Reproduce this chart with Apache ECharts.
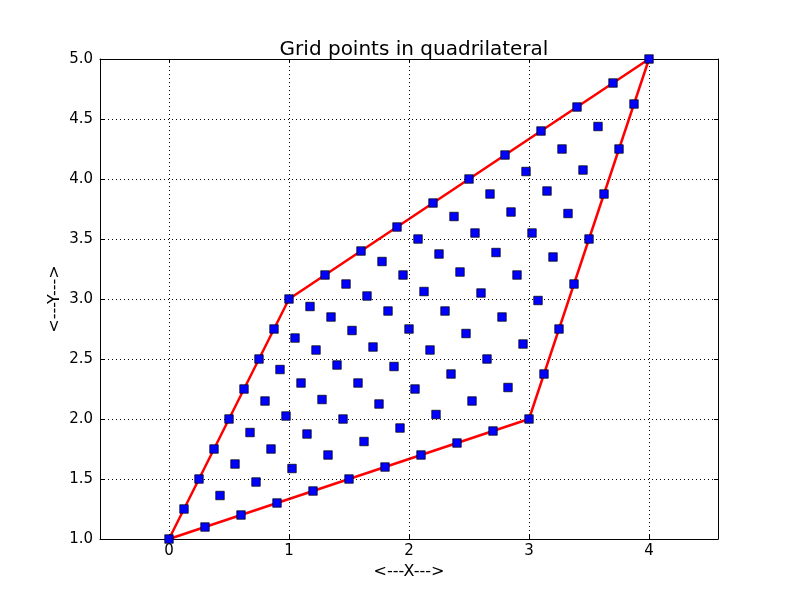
<!DOCTYPE html>
<html>
<head>
<meta charset="utf-8">
<script src="https://cdn.jsdelivr.net/npm/echarts@6/dist/echarts.min.js"></script>
<style>html,body{margin:0;padding:0;background:#fff}#c{width:800px;height:600px}</style>
</head>
<body>
<div id="c"></div>
<script>
// Grid point coordinates, one row per level (bottom edge to top edge)
var gridX = [
  [0, 0.3, 0.6, 0.9, 1.2, 1.5, 1.8, 2.1, 2.4, 2.7, 3.0],
  [0.125, 0.425, 0.725, 1.025, 1.325, 1.625, 1.925, 2.225, 2.525, 2.825, 3.125],
  [0.25, 0.55, 0.85, 1.15, 1.45, 1.75, 2.05, 2.35, 2.65, 2.95, 3.25],
  [0.375, 0.675, 0.975, 1.275, 1.575, 1.875, 2.175, 2.475, 2.775, 3.075, 3.375],
  [0.5, 0.8, 1.1, 1.4, 1.7, 2.0, 2.3, 2.6, 2.9, 3.2, 3.5],
  [0.625, 0.925, 1.225, 1.525, 1.825, 2.125, 2.425, 2.725, 3.025, 3.325, 3.625],
  [0.75, 1.05, 1.35, 1.65, 1.95, 2.25, 2.55, 2.85, 3.15, 3.45, 3.75],
  [0.875, 1.175, 1.475, 1.775, 2.075, 2.375, 2.675, 2.975, 3.275, 3.575, 3.875],
  [1.0, 1.3, 1.6, 1.9, 2.2, 2.5, 2.8, 3.1, 3.4, 3.7, 4.0]
];
var gridY = [
  [1.0, 1.1, 1.2, 1.3, 1.4, 1.5, 1.6, 1.7, 1.8, 1.9, 2.0],
  [1.25, 1.3625, 1.475, 1.5875, 1.7, 1.8125, 1.925, 2.0375, 2.15, 2.2625, 2.375],
  [1.5, 1.625, 1.75, 1.875, 2.0, 2.125, 2.25, 2.375, 2.5, 2.625, 2.75],
  [1.75, 1.8875, 2.025, 2.1625, 2.3, 2.4375, 2.575, 2.7125, 2.85, 2.9875, 3.125],
  [2.0, 2.15, 2.3, 2.45, 2.6, 2.75, 2.9, 3.05, 3.2, 3.35, 3.5],
  [2.25, 2.4125, 2.575, 2.7375, 2.9, 3.0625, 3.225, 3.3875, 3.55, 3.7125, 3.875],
  [2.5, 2.675, 2.85, 3.025, 3.2, 3.375, 3.55, 3.725, 3.9, 4.075, 4.25],
  [2.75, 2.9375, 3.125, 3.3125, 3.5, 3.6875, 3.875, 4.0625, 4.25, 4.4375, 4.625],
  [3.0, 3.2, 3.4, 3.6, 3.8, 4.0, 4.2, 4.4, 4.6, 4.8, 5.0]
];
var cornerX = [0, 3, 4, 1, 0];
var cornerY = [1, 2, 5, 3, 1];
var xTicks = [0, 1, 2, 3, 4];
var xMin = -0.575, xMax = 4.575;
var yMin = 1.0, yMax = 5.0, yStep = 0.5;

var points = [];
for (var r = 0; r < gridX.length; r++) {
  for (var c = 0; c < gridX[r].length; c++) points.push([gridX[r][c], gridY[r][c]]);
}
var outline = cornerX.map(function (x, i) { return [x, cornerY[i]]; });

var font = 'DejaVu Sans';
var dotted = { color: '#000', width: 1, type: [1, 3] };
function xAx(pos, showLabel) {
  return {
    type: 'value', position: pos, min: xMin, max: xMax,
    axisLine: { show: true, onZero: false, lineStyle: { color: '#000', width: 1 } },
    axisTick: { show: true, inside: true, length: 4, customValues: xTicks, lineStyle: { color: '#000' } },
    axisLabel: { show: showLabel, customValues: xTicks, color: '#000', fontFamily: font, fontSize: 15, margin: 5 },
    splitLine: { show: false },
    name: showLabel ? '<---X--->' : '', nameLocation: 'middle', nameGap: 25,
    nameTextStyle: { color: '#000', fontFamily: font, fontSize: 16 }
  };
}
function yAx(pos, showLabel) {
  return {
    type: 'value', position: pos, min: yMin, max: yMax, interval: yStep,
    axisLine: { show: true, onZero: false, lineStyle: { color: '#000', width: 1 } },
    axisTick: { show: true, inside: true, length: 4, lineStyle: { color: '#000' } },
    axisLabel: { show: showLabel, color: '#000', fontFamily: font, fontSize: 15, margin: 7,
      formatter: function (v) { return v.toFixed(1); } },
    splitLine: { show: showLabel, lineStyle: dotted },
    name: showLabel ? '<---Y--->' : '', nameLocation: 'middle', nameGap: 37, nameMoveOverlap: false,
    nameTextStyle: { color: '#000', fontFamily: font, fontSize: 16 }
  };
}

var chart = echarts.init(document.getElementById('c'));
chart.setOption({
  animation: false,
  backgroundColor: '#fff',
  title: {
    text: 'Grid points in quadrilateral', left: 409, top: 35, textAlign: 'center',
    textStyle: { color: '#000', fontFamily: font, fontSize: 20, fontWeight: 'normal' }
  },
  grid: { left: 100, right: 82, top: 59, bottom: 61 },
  xAxis: [xAx('bottom', true), xAx('top', false)],
  yAxis: [yAx('left', true), yAx('right', false)],
  series: [
    {
      type: 'line', data: outline, showSymbol: false, symbol: 'none',
      lineStyle: { color: '#ff0000', width: 2.5 }, z: 2,
      markLine: {
        silent: true, symbol: 'none', label: { show: false },
        lineStyle: dotted,
        data: xTicks.map(function (v) { return { xAxis: v }; })
      }
    },
    {
      type: 'scatter', data: points, symbol: 'rect', symbolSize: 8.5,
      itemStyle: { color: '#0000ff', borderColor: '#000', borderWidth: 0.7, opacity: 1 }, z: 3
    }
  ]
});
</script>
</body>
</html>
